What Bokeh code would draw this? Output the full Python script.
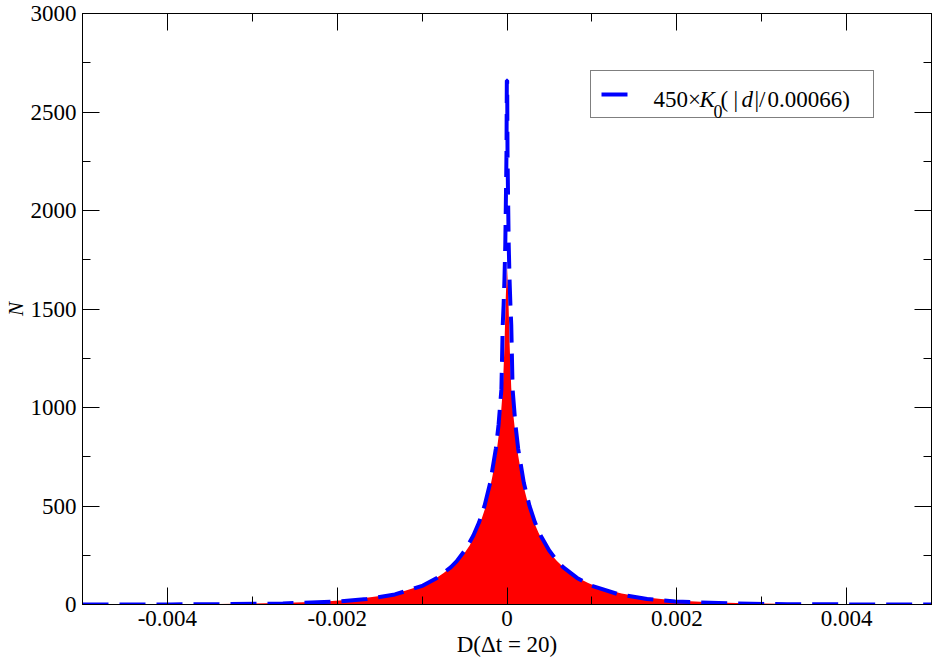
import math
from bokeh.plotting import figure
from bokeh.models import Range1d, FixedTicker, LinearAxis, Label, Legend, LegendItem
from bokeh.embed import file_html
from bokeh.resources import INLINE

# ---------------- data ----------------
# dashed fit curve 450*K0(|d|/0.00066): positive half (mirrored for d<0)
fit_d = [0.000002, 0.000006, 0.00001, 0.00002, 0.00003, 0.00004, 0.00005,
         0.000066, 0.000099, 0.000132, 0.000198, 0.000264, 0.00033, 0.000396,
         0.000495, 0.000594, 0.00066, 0.000825, 0.00099, 0.00132, 0.00165,
         0.00198, 0.00264, 0.0033, 0.00396, 0.005]
fit_n = [2660, 2300, 2150, 1830, 1650, 1520, 1420,
         1092, 914, 789, 618, 502, 416, 350,
         275, 219, 190, 135, 96, 51, 28,
         15.6, 5.0, 1.7, 0.56, 0.1]

# histogram envelope (red), left side, centre, right side
hist_d_left = [-0.005, -0.0043, -0.0038, -0.0034, -0.003, -0.0027, -0.0024, -0.0021,
               -0.0019, -0.0017, -0.0015, -0.00135, -0.0012, -0.00105, -0.00095,
               -0.00085, -0.00075, -0.00066, -0.00058, -0.0005, -0.00044, -0.00037,
               -0.00031, -0.00026, -0.00021, -0.00017, -0.00013, -0.0001, -0.00007,
               -0.00005, -0.00003, -0.000016, -0.000008]
hist_n_left = [0.5, 1, 2, 3, 5, 7, 11, 17,
               23, 32, 43, 55, 70, 90, 108,
               130, 158, 188, 222, 262, 300, 360,
               420, 485, 570, 655, 750, 850, 975,
               1090, 1310, 1540, 1630]
hist_d_center = [0.0]
hist_n_center = [1720]
hist_d_right = [0.000008, 0.000016, 0.00003, 0.00005, 0.00007, 0.0001, 0.00013,
                0.00017, 0.00021, 0.00026, 0.00031, 0.00037, 0.00044, 0.0005,
                0.00058, 0.00066, 0.00075, 0.00085, 0.00095, 0.00105, 0.0012,
                0.00135, 0.0015, 0.0017, 0.0019, 0.0021, 0.0024, 0.0027, 0.003,
                0.0034, 0.0038, 0.0043, 0.005]
hist_n_right = [1640, 1560, 1330, 1100, 980, 860, 760,
                660, 575, 490, 425, 365, 305, 265,
                225, 190, 160, 132, 110, 92, 72,
                56, 44, 33, 24, 18, 12, 8, 5,
                3, 2, 1, 0.5]

x_ticks = [-0.004, -0.002, 0.0, 0.002, 0.004]
x_tick_labels = ["-0.004", "-0.002", "0", "0.002", "0.004"]
x_minor_ticks = [-0.005, -0.003, -0.001, 0.001, 0.003, 0.005]
y_ticks = [0, 500, 1000, 1500, 2000, 2500, 3000]
y_minor_ticks = [250, 750, 1250, 1750, 2250, 2750]

x_label_text = "D(Δt = 20)"
y_label_text = "N"
legend_parts = [("450×", "normal"), ("K", "italic"), ("0", "sub"), ("(", "normal"),
                ("|", "normal"), ("d", "italic"), ("|/", "normal"), ("0.00066)", "normal")]

# ---------------- figure ----------------
FONT = "Liberation Serif"
FS = "23px"
FRAME_H = 591
FRAME_TOP = 13

p = figure(frame_width=849, frame_height=FRAME_H, output_backend="svg", toolbar_location=None,
           x_range=Range1d(-0.005, 0.005), y_range=Range1d(0, 3000),
           min_border_left=82, min_border_right=5, min_border_top=FRAME_TOP,
           min_border_bottom=59,
           background_fill_color="white", border_fill_color="white")
p.xgrid.visible = False
p.ygrid.visible = False
p.outline_line_color = "black"
p.outline_line_width = 1

hx = hist_d_left + hist_d_center + hist_d_right
hy = hist_n_left + hist_n_center + hist_n_right
p.varea(x=hx, y1=[0] * len(hx), y2=hy, fill_color="#ff0000")

fx = [-d for d in reversed(fit_d)] + fit_d
fy = list(reversed(fit_n)) + fit_n
fit = p.line(fx, fy, line_color="#0000ff", line_width=4, line_dash="26 11")

xt = FixedTicker(ticks=x_ticks, minor_ticks=x_minor_ticks)
yt = FixedTicker(ticks=y_ticks, minor_ticks=y_minor_ticks)


def style_axis(ax, ticker, ticks, show_labels, standoff=0):
    ax.ticker = ticker
    ax.axis_line_color = "black"
    ax.major_tick_line_color = "black"
    ax.minor_tick_line_color = "black"
    ax.major_tick_in = 17
    ax.major_tick_out = 0
    ax.minor_tick_in = 8
    ax.minor_tick_out = 0
    ax.major_label_text_font = FONT
    ax.major_label_text_color = "black"
    ax.axis_label_text_font = FONT
    ax.axis_label_text_color = "black"
    if show_labels:
        ax.major_label_text_font_size = FS
    else:
        ax.major_label_overrides = {t: "" for t in ticks}
        ax.major_label_text_font_size = "1px"
        ax.major_label_standoff = standoff


bx = p.xaxis[0]
style_axis(bx, xt, x_ticks, True)
bx.major_label_overrides = dict(zip(x_ticks, x_tick_labels))
bx.major_label_standoff = 6
bx.axis_label = x_label_text
bx.axis_label_text_font_size = FS
bx.axis_label_text_font_style = "normal"
bx.axis_label_standoff = 3

ly = p.yaxis[0]
style_axis(ly, yt, y_ticks, True)
ly.major_label_standoff = 6
ly.axis_label = y_label_text
ly.axis_label_text_font_size = "21px"
ly.axis_label_text_font_style = "italic"
ly.axis_label_standoff = 0

top = LinearAxis()
style_axis(top, xt, x_ticks, False, standoff=FRAME_TOP - 2)
p.add_layout(top, "above")
right = LinearAxis()
style_axis(right, yt, y_ticks, False)
p.add_layout(right, "right")

# legend box with line sample (text drawn as labels inside it)
legend = Legend(items=[LegendItem(label=" ", renderers=[fit])], location="top_right",
                padding=10, spacing=0, margin=57, glyph_width=27, glyph_height=26,
                label_width=230, label_height=26, label_standoff=5,
                label_text_font_size="10px",
                border_line_color="black", border_line_width=1,
                background_fill_color="white", background_fill_alpha=0.0)
p.add_layout(legend)


def lab(text, x, y, style="normal", size=FS):
    p.add_layout(Label(x=x, y=y, x_units="screen", y_units="screen", text=text,
                       text_font=FONT, text_font_size=size,
                       text_font_style="italic" if style == "italic" else "normal",
                       text_color="black", text_baseline="alphabetic",
                       text_align="left"))


# frame-relative screen coordinates (origin = frame bottom-left)
leg_x = [571, 617, 631, 638, 651, 659, 672, 685]
base_main = FRAME_H - (98.5 - FRAME_TOP)
base_sub = FRAME_H - (111 - FRAME_TOP)
for (t, st), xp in zip(legend_parts, leg_x):
    if st == "sub":
        lab(t, xp, base_sub, "normal", size="18px")
    else:
        lab(t, xp, base_main, st)

open("out.html", "w").write(file_html(p, INLINE))
